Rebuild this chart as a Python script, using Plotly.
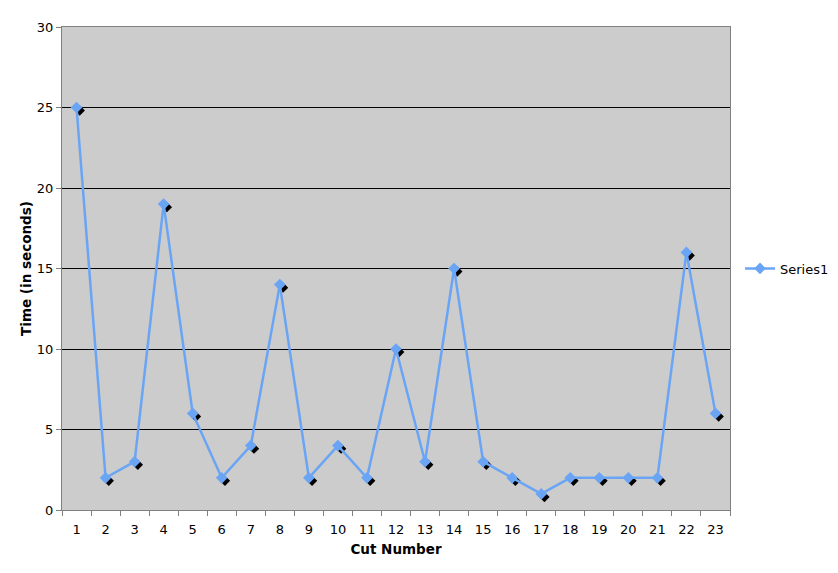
import plotly.graph_objects as go

cuts = list(range(1, 24))
times = [25, 2, 3, 19, 6, 2, 4, 14, 2, 4, 2, 10, 3, 15, 3, 2, 1, 2, 2, 2, 2, 16, 6]
series_name = "Series1"
y_ticks = [0, 5, 10, 15, 20, 25, 30]

FONT = "DejaVu Sans"
dx = 0.11   # shadow offset in x-units (~3px)
dy = 0.19   # shadow offset in y-units (~3px)

fig = go.Figure()
# shadow markers (main axes, slightly shifted range)
fig.add_trace(go.Scatter(
    x=cuts, y=times, mode="markers", xaxis="x", yaxis="y",
    marker=dict(symbol="diamond", size=8, color="black"),
    showlegend=False, hoverinfo="skip"))
# main series on overlay axes
fig.add_trace(go.Scatter(
    x=cuts, y=times, mode="lines+markers", name=series_name,
    xaxis="x2", yaxis="y2",
    line=dict(color="#6AA5F5", width=2.5),
    marker=dict(symbol="diamond", size=9, color="#6AA5F5")))

fig.update_layout(
    width=838, height=573,
    margin=dict(l=54, r=115, t=17, b=71),
    paper_bgcolor="white", plot_bgcolor="#CCCCCC",
    font=dict(family=FONT, size=13, color="black"),
    xaxis=dict(range=[0.5 - dx, 23.5 - dx], visible=False, fixedrange=True),
    yaxis=dict(range=[0 + dy, 30 + dy], visible=False, fixedrange=True),
    xaxis2=dict(overlaying="x", range=[0.5, 23.5], tickmode="array", tickvals=cuts,
                ticks="", showgrid=False, zeroline=False, ticklabelstandoff=7,
                showline=True, linecolor="#808080", linewidth=1, mirror=True,
                minor=dict(tick0=0.5, dtick=1, ticks="outside", ticklen=5,
                           tickcolor="#808080", showgrid=False),
                title=dict(text="<b>Cut Number</b>", font=dict(size=13.5), standoff=8),
                tickfont=dict(size=13)),
    yaxis2=dict(overlaying="y", range=[0, 30], tickmode="array", tickvals=y_ticks,
                ticks="outside", ticklen=5, tickcolor="#808080",
                showgrid=True, gridcolor="black", gridwidth=1, zeroline=False,
                showline=True, linecolor="#808080", linewidth=1, mirror=True,
                title=dict(text="<b>Time (in seconds)</b>", font=dict(size=13.5), standoff=2),
                tickfont=dict(size=13)),
    legend=dict(x=1.015, y=0.5, xanchor="left", yanchor="middle",
                font=dict(size=13), bgcolor="rgba(0,0,0,0)"),
)

fig.write_html("out.html")
